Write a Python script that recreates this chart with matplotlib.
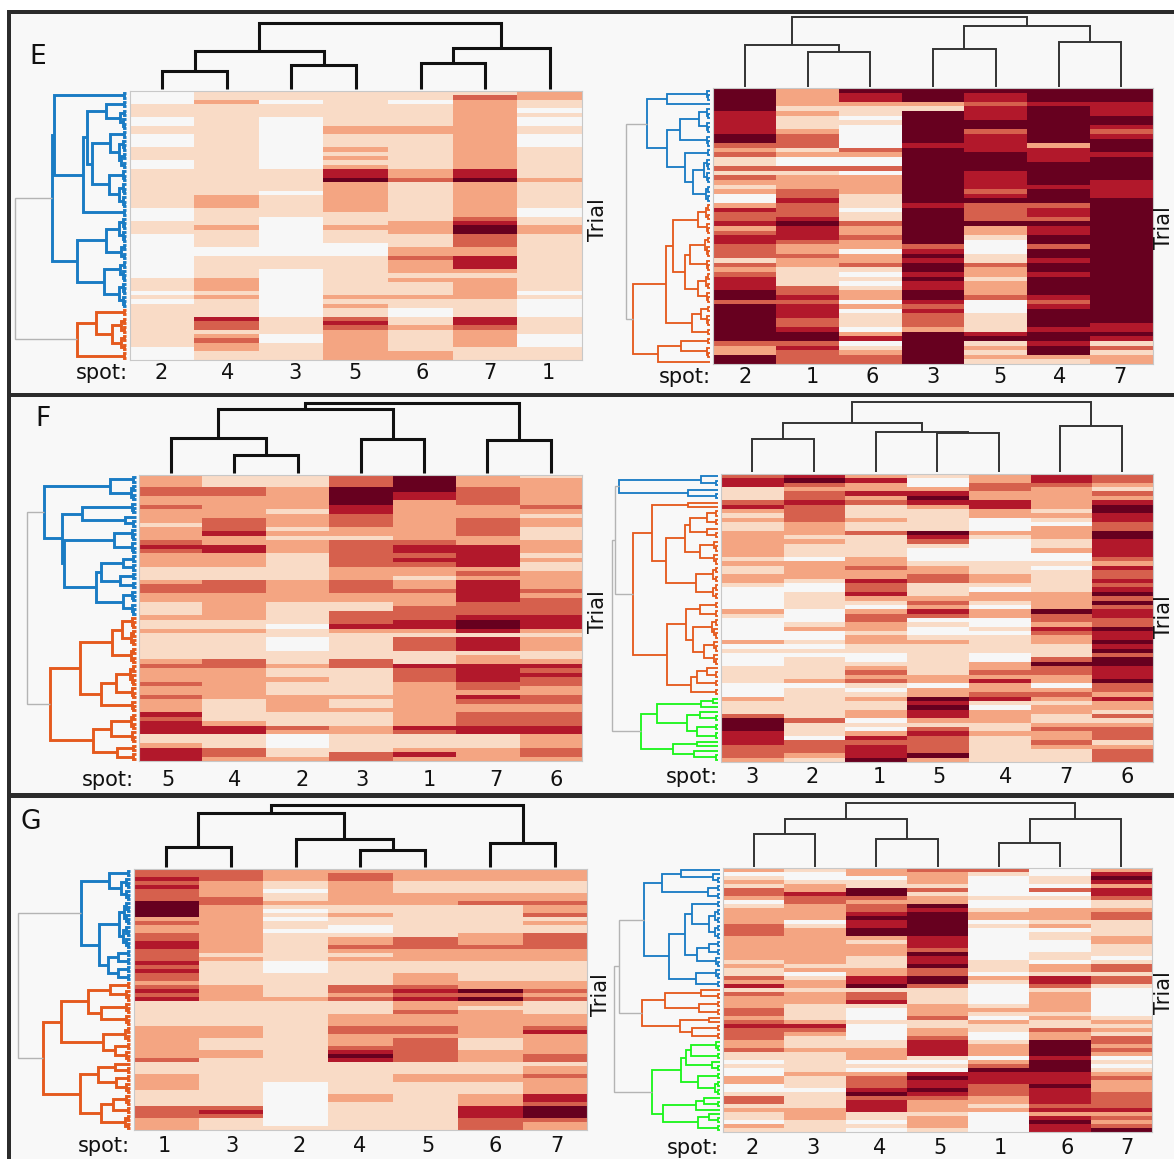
import matplotlib
matplotlib.use("Agg")
import matplotlib.pyplot as plt
from matplotlib.colors import ListedColormap
from matplotlib.patches import Rectangle
import numpy as np

W, H = 1174, 1159
LEVEL_COLORS = ['#f7f7f7', '#f9dbc6', '#f4a582', '#d6604d', '#b2182b', '#67001f']

# heat levels, run-length coded per column: first digit = level, rest = number of trials
E_L = ["03 13 02 12 03 13 02 19 03 13 010 13 01 11 01 110 03",
       "12 21 121 23 14 21 14 02 15 23 11 21 14 41 32 11 21 31 22 12",
       "12 01 13 012 15 01 15 09 13 011 14 02 14",
       "18 22 13 21 11 21 11 21 42 51 27 13 21 13 03 19 21 11 21 12 31 41 31 27",
       "12 01 15 22 18 22 31 19 23 13 22 31 23 11 21 13 21 12 02 12 21 15 22",
       "11 31 216 42 51 28 31 41 52 33 22 43 21 11 25 14 42 31 24 13",
       "22 12 01 11 02 12 03 17 21 16 02 12 22 113 01 11 04 14 03 13"]
E_R = ["55 45 52 31 21 31 12 31 11 31 21 11 21 02 21 41 32 41 21 31 42 33 11 31 21 31 43 52 31 58 31 22 52",
       "24 11 21 13 21 33 11 21 02 31 11 23 32 41 33 41 51 43 31 22 31 22 14 32 41 31 43 32 41 52 31 41 33",
       "51 42 21 12 01 11 05 31 21 02 31 01 24 13 01 12 31 22 31 22 01 22 31 11 01 11 01 11 22 01 21 01 13 01 21 41 01 11 21 32",
       "53 21 11 57 41 512 41 58 31 41 51 41 52 41 51 42 52 41 31 41 33 21 57",
       "51 42 31 43 52 31 44 54 44 31 41 51 34 51 22 11 03 12 31 22 11 23 31 03 14 41 51 11 21 11 21 11",
       "53 41 58 21 43 55 41 53 31 42 31 51 42 52 31 52 41 52 41 54 41 31 41 54 41 52 41 52 21 11",
       "53 43 52 41 31 41 53 41 55 44 527 42 51 41 11 31 11 22"]
F_L = ["23 32 22 31 23 11 23 31 41 31 23 13 21 32 22 13 21 12 21 16 21 31 23 31 22 31 23 41 31 43 12 21 43",
       "13 32 25 33 41 22 42 23 13 33 26 12 21 16 32 27 15 21 42 13 32 21",
       "13 25 11 23 11 21 11 23 16 25 15 01 12 03 13 21 12 21 13 24 13 31 21 03 12 21",
       "33 54 42 33 22 11 36 23 33 22 12 33 41 21 16 32 16 21 12 21 13 22 14 32",
       "54 42 29 31 42 31 41 31 22 11 22 31 23 33 42 21 11 33 13 41 33 210 41 31 13 21 41 21",
       "23 34 23 34 22 45 21 31 21 45 33 41 52 41 11 43 11 22 44 32 21 41 31 22 33 42 13 23",
       "11 26 31 21 11 22 13 23 11 21 12 24 31 21 34 43 21 11 23 12 21 41 31 41 32 22 32 22 33 42 23 32 21"]
F_R = ["31 42 13 31 41 21 11 21 12 26 11 21 12 22 11 05 21 11 05 21 01 11 03 14 03 21 13 31 53 43 33 21",
       "41 51 31 21 32 41 34 23 11 21 13 01 24 11 02 14 03 11 21 02 11 01 11 01 15 21 01 17 31 13 01 33 21 11",
       "21 41 22 41 21 31 13 21 12 31 15 22 31 22 41 32 41 21 11 01 21 32 22 11 22 12 02 11 21 31 21 31 11 01 11 21 12 22 01 11 01 21 41 31 43 51",
       "11 02 21 41 51 41 21 15 51 41 31 11 03 11 22 32 13 21 31 21 41 31 01 11 02 11 21 17 22 01 22 51 41 51 42 21 11 31 41 34 51 21",
       "22 32 22 42 22 03 21 11 05 13 22 11 01 22 11 01 22 02 11 01 14 02 22 31 21 41 22 31 41 11 01 23 12 21 16",
       "42 31 25 11 21 11 01 23 12 21 02 11 01 15 24 51 32 21 41 31 22 13 31 51 32 22 01 21 31 21 11 22 12 21 31 22 31 21 13",
       "32 21 11 31 21 41 52 42 31 31 52 44 31 21 41 32 41 31 41 51 31 51 31 42 32 51 42 51 41 51 31 52 43 51 32 21 41 22 11 31 11 21 33 11 21 33"]
G_L = ["32 41 31 41 33 54 21 31 22 32 42 33 41 31 41 32 21 31 41 31 41 16 28 31 13 24 14 33 23",
       "33 24 32 212 11 21 16 24 16 23 13 22 112 31 41 31 13",
       "23 12 01 12 21 11 01 11 01 12 01 17 03 16 21 120 011 11",
       "21 32 26 12 21 12 02 11 22 31 21 11 21 16 32 21 31 13 23 32 23 31 41 51 41 18 22 17",
       "23 13 23 18 33 23 13 23 31 41 31 41 22 31 23 32 21 36 13 22 112",
       "23 13 22 31 17 23 31 23 15 22 51 31 51 21 11 27 13 23 13 22 13 23 43 33",
       "23 13 22 31 22 31 11 21 12 34 23 15 22 31 21 31 13 23 31 41 25 32 11 22 31 24 42 31 53 31 22"]
G_R = ["21 01 11 21 11 32 21 01 11 24 33 26 11 21 12 31 21 41 11 31 23 32 21 31 41 33 22 31 12 01 11 02 22 02 11 32 11 21 12 01 21 11",
       "11 02 11 22 41 32 24 01 11 29 11 21 01 11 22 11 23 14 21 41 31 21 13 21 15 21 13 01 14 23 13",
       "22 01 12 52 31 21 32 41 51 42 52 21 11 23 13 22 42 51 11 32 41 11 03 11 04 12 23 01 11 01 21 33 41 51 31 43 12 01 11 01",
       "31 23 11 31 11 22 51 41 56 43 31 51 42 51 32 52 31 14 23 31 12 22 31 44 11 01 11 01 41 51 42 51 41 31 23 11 23 11",
       "31 11 05 11 02 11 22 01 11 08 13 01 21 11 05 11 21 11 01 21 12 02 11 23 01 21 31 51 43 33 22 11 21 05",
       "02 12 01 31 01 11 02 23 11 21 01 12 03 12 01 22 11 42 31 11 25 11 21 12 31 22 54 41 53 43 51 44 31 41 21 41 51 42",
       "21 41 51 41 21 42 31 12 21 32 14 22 13 01 11 32 11 32 11 07 11 21 11 21 11 32 21 31 21 01 11 01 11 21 31 23 34 41 21 31 21 31 51"]

# column labels
SPOTS_E_L = ['2', '4', '3', '5', '6', '7', '1']
SPOTS_E_R = ['2', '1', '6', '3', '5', '4', '7']
SPOTS_F_L = ['5', '4', '2', '3', '1', '7', '6']
SPOTS_F_R = ['3', '2', '1', '5', '4', '7', '6']
SPOTS_G_L = ['1', '3', '2', '4', '5', '6', '7']
SPOTS_G_R = ['2', '3', '4', '5', '1', '6', '7']

# dendrograms: (height, a, b[, colour]); (height, n) = tight cluster of n trials; n = n trials
COL_E_L = (1.0, (.58, (.275, 1, 1), (.36, 1, 1)), (.625, (.39, 1, 1), 1))
COL_E_R = (1.0, (.594, 1, (.505, 1, 1)), (.873, (.54, 1, 1), (.637, 1, 1)))
COL_F_L = (1.0, (.91, (.495, 1, (.26, 1, 1)), (.486, 1, 1)), (.47, 1, 1))
COL_F_R = (1.0, (.70, (.47, 1, 1), (.58, 1, (.557, 1, 1))), (.66, 1, 1))
COL_G_L = (1.0, (.866, (.326, 1, 1), (.455, 1, (.278, 1, 1))), (.385, 1, 1))
COL_G_R = (1.0, (.745, (.505, 1, 1), (.427, 1, 1)), (.745, (.37, 1, 1), 1))

ROW_E_L = (1.0,
           (.665, (.655, 2, (.386, (.352, (.186, 2, 5), (.31, (.145, 2, (.07, 7)), (.155, 3, 6))), 2)),
            (.44, (.18, 6, 4), (.2, 5, 6)), 'b'),
           (.448, (.276, 2, (.13, 8)), 2, 'o'))
ROW_E_R = (1.0,
           (.748, (.51, 3, 1),
            (.51, (.35, (.13, 6), 3), (.3, 2, (.196, 6, 4))), 'b'),
           (.913, (.52, (.435, (.14, 4, 3), (.29, (.23, 5, 3), (.14, 4, 3))), (.217, (.1, 5), 2)),
            (.62, (.34, 2, 3), 1), 'o'))
ROW_F_L = (1.0,
           (.842, (.235, 2, 4),
            (.674, (.495, 3, (.1, 3)), (.66, (.2, 3, 3), (.368, (.316, (.12, 4), (.15, 4)), (.116, 6)))), 'b'),
           (.79, (.516, (.22, (.13, 7), 4), (.32, (.18, 5, 3), 3)),
            (.396, (.228, 4, 3), (.175, 2, 2)), 'o'))
ROW_F_R = (1.0,
           (.97, (.93, (.16, 1, 2), (.28, 1, 2), 'b'),
            (.8, (.62, (.28, 1, 1),
                  (.49, (.31, (.26, (.1, 4), (.1, 3)), (.17, 3, 3)), (.207, 4, 4))),
             (.483, (.297, (.17, 2, 2), (.23, (.06, 5), (.135, 3, 3))),
              (.255, (.2, (.1, 3), 2), 2)), 'o')),
           (.724, (.578, (.16, (.05, 2), 1), (.29, (.17, 1, 2), (.2, 2, 2))),
            (.42, (.2, 1, 1), (.228, 1, 2)), 'g'))
ROW_G_L = (1.0,
           (.437, (.188, 2, (.085, 6)),
            (.28, (.1, (.05, 6), 6), (.195, (.11, 4), (.11, 4))), 'b'),
           (.78, (.615, (.375, (.177, 2, 3), (.256, 3, 3)), (.246, 4, (.137, 2, 3))),
            (.45, (.283, (.137, 1, 2), (.126, 2, 3)), (.256, (.154, 3, 2), 4)), 'o'))
ROW_G_R = (1.0,
           (.948, (.717, (.55, (.37, 1, (.07, 3)), (.11, 4)),
                   (.48, (.33, (.26, 2, (.1, 8)), (.22, (.1, 4), 3)), (.228, 3, 2)), 'b'),
            (.738, (.517, (.18, 1, 2), (.2, 2, 2)), (.38, (.1, 2), (.26, 2, 2)), 'o')),
           (.64, (.372, (.32, (.27, 3, 2), (.08, 3)), (.207, 2, 4)),
            (.538, (.224, (.155, 3), 1), (.21, (.1, 3), 2)), 'g'))

# panel layout in pixels
PANELS = [
    dict(data=E_L, rows=62, spots=SPOTS_E_L, col=COL_E_L, row=ROW_E_L, box=(130, 582, 91, 360), ctop=22.7, cbot=89.3,
         rx=(15.3, 126.3), lw=2.2, lab=[161, 228, 295, 355, 422, 490, 548], laby=373, spotx=128, trial=(598, 220)),
    dict(data=E_R, rows=60, spots=SPOTS_E_R, col=COL_E_R, row=ROW_E_R, box=(713.5, 1152.7, 88.3, 364), ctop=16.7, cbot=87.3,
         rx=(625.6, 709.8), lw=1.4, lab=[745, 812, 872, 933, 1000, 1060, 1120], laby=377, spotx=711, trial=(1164, 228)),
    dict(data=F_L, rows=65, spots=SPOTS_F_L, col=COL_F_L, row=ROW_F_L, box=(139.3, 582.4, 475, 761), ctop=402.7, cbot=473.3,
         rx=(26.8, 135.9), lw=2.2, lab=[168, 235, 302, 362, 429, 496, 556], laby=780, spotx=134, trial=(598, 612)),
    dict(data=F_R, rows=66, spots=SPOTS_F_R, col=COL_F_R, row=ROW_F_R, box=(721.5, 1152.7, 474.3, 761.7), ctop=402.3, cbot=472.3,
         rx=(611.7, 717.9), lw=1.4, lab=[752, 812, 879, 939, 1006, 1066, 1127], laby=777, spotx=718, trial=(1164, 617)),
    dict(data=G_L, rows=65, spots=SPOTS_G_L, col=COL_G_L, row=ROW_G_L, box=(133.5, 587.4, 869.3, 1129.7), ctop=805, cbot=867.3,
         rx=(18, 130.1), lw=2.2, lab=[164, 232, 299, 360, 428, 495, 557], laby=1146, spotx=130, trial=(601, 995)),
    dict(data=G_R, rows=66, spots=SPOTS_G_R, col=COL_G_R, row=ROW_G_R, box=(723.4, 1152, 868.3, 1131.7), ctop=802.7, cbot=866.7,
         rx=(613.9, 720), lw=1.4, lab=[752, 813, 880, 940, 1000, 1067, 1127], laby=1148, spotx=719, trial=(1164, 993)),
]
LETTERS = [('E', 38, 57), ('F', 43, 419), ('G', 31, 822)]
BRANCH = {'b': '#1a7cc4', 'o': '#e55a1e', 'g': '#1cf51c'}


def decode(runs, n):
    out = []
    for tok in runs.split():
        out += [int(tok[0])] * int(tok[1:])
    out = (out + out[-1:] * n)[:n]
    return out


def px_axes(fig, x0, x1, y0, y1):
    return fig.add_axes([x0 / W, 1 - y1 / H, (x1 - x0) / W, (y1 - y0) / H])


def draw_tree(node, start, seg, color, cap):
    """Lay out the tree leaf by leaf; returns position, height, next free leaf."""
    if isinstance(node, int):
        if node == 1:
            return start + .5, 0.0, start + 1
        h = min(0.011 * node, cap * .7)
        node = (h, node // 2, node - node // 2)
    elif len(node) == 2:
        node = (node[0], node[1] // 2, node[1] - node[1] // 2)
    if len(node) == 4:
        color = node[3]
    h = node[0]
    pa, ha, nxt = draw_tree(node[1], start, seg, color, h)
    pb, hb, nxt = draw_tree(node[2], nxt, seg, color, h)
    seg.append(((pa, pa, pb, pb), (ha, h, h, hb), color))
    return (pa + pb) / 2, h, nxt


fig = plt.figure(figsize=(W / 100, H / 100), dpi=100, facecolor='white')
bg = fig.add_axes([0, 0, 1, 1], zorder=-5)
bg.set_xlim(0, W)
bg.set_ylim(H, 0)
bg.axis('off')
bg.add_patch(Rectangle((9, 11), W, H, color='#f8f8f8', lw=0))
for (x, y, w, h) in [(7, 10, W, 3.5), (7, 10, 4, H), (7, 393, W, 4), (7, 793, W, 4.5)]:
    bg.add_patch(Rectangle((x, y), w, h, color='#2b2b2b', lw=0))

cmap = ListedColormap(LEVEL_COLORS)
for p in PANELS:
    x0, x1, y0, y1 = p['box']
    grid = np.array([decode(c, p['rows']) for c in p['data']]).T
    ax = px_axes(fig, x0, x1, y0, y1)
    ax.imshow(grid, cmap=cmap, vmin=-.5, vmax=5.5, aspect='auto', interpolation='nearest')
    ax.set_xticks([])
    ax.set_yticks([])
    for s in ax.spines.values():
        s.set_color('#c8c8c8')
        s.set_linewidth(.8)

    # column dendrogram
    cax = px_axes(fig, x0, x1, p['ctop'], p['cbot'])
    cax.set_xlim(0, 7)
    cax.set_ylim(0, 1)
    cax.axis('off')
    seg = []
    draw_tree(p['col'], 0, seg, 'k', 1)
    for xs, ys, c in seg:
        cax.plot(xs, ys, color='#111111' if p['lw'] > 2 else '#333333', lw=p['lw'], clip_on=False,
                 solid_joinstyle='miter', solid_capstyle='butt')

    # row dendrogram
    rax = px_axes(fig, p['rx'][0], p['rx'][1], y0, y1)
    rax.set_xlim(1, 0)
    rax.set_ylim(p['rows'], 0)
    rax.axis('off')
    seg = []
    draw_tree(p['row'], 0, seg, 'gray', 1)
    for ys, xs, c in seg:
        col = BRANCH.get(c, '#b4b4b4')
        rax.plot(xs, ys, color=col, lw=(p['lw'] * .95 if c != 'gray' else 1.0), clip_on=False,
                 solid_joinstyle='miter', solid_capstyle='butt')

    fig.text(p['spotx'] / W, 1 - p['laby'] / H, 'spot:', ha='right', va='center', fontsize=15, color='#111111')
    for xp, s in zip(p['lab'], p['spots']):
        fig.text(xp / W, 1 - p['laby'] / H, s, ha='center', va='center', fontsize=15, color='#111111')
    fig.text(p['trial'][0] / W, 1 - p['trial'][1] / H, 'Trial', rotation=90, ha='center', va='center',
             fontsize=15, color='#111111')

for s, x, y in LETTERS:
    fig.text(x / W, 1 - y / H, s, ha='center', va='center', fontsize=19, color='#111111')

fig.savefig('out.png', dpi=100, facecolor='white')
